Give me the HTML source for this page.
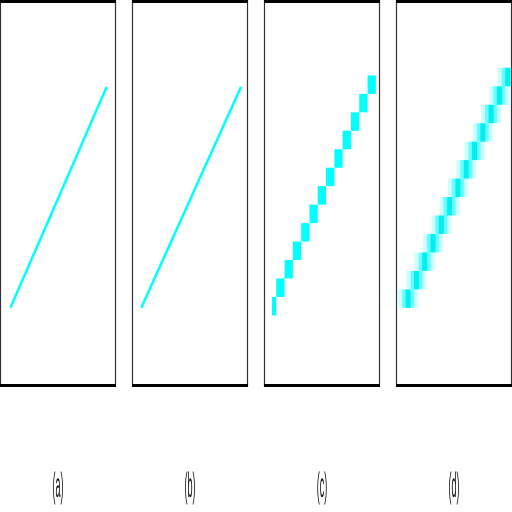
<!DOCTYPE html>
<html><head><meta charset="utf-8"><style>
html,body{margin:0;padding:0;background:#fff;}
svg{display:block;}
text{font-family:"Liberation Sans",sans-serif;}
</style></head><body>
<svg id="chart" width="512" height="512" viewBox="0 0 512 512">
<defs>
<clipPath id="cc"><rect x="272" y="0" width="108" height="384"/></clipPath>
<clipPath id="cd"><rect x="397" y="0" width="114" height="384"/></clipPath>
</defs>
<g id="frames"></g>
<g id="marks"></g>
</svg>
<script>
// panel labels and line endpoints (data units: x 0..1 across panel, y 0..1 bottom->top)
const panelLabels = ["(a)", "(b)", "(c)", "(d)"];
const lineStartX = [0.09, 0.08, 0.07, 0.07];
const lineEndX = [0.92, 0.94, 1.0, 1.0];
const lineStartY = [0.20, 0.20, 0.18, 0.20];
const lineEndY = [0.78, 0.78, 0.81, 0.83];
const blockCounts = [0, 0, 13, 13];

const NS = "http://www.w3.org/2000/svg";
const panelLeft = [0, 132, 264, 396];
const panelW = 116, plotTop = 3, plotBottom = 384;
function sx(p, v){ return panelLeft[p] + v * panelW; }
function sy(v){ return plotBottom - v * (plotBottom - plotTop); }
function mk(tag, attrs, parent){ const e=document.createElementNS(NS,tag); for(const k in attrs) e.setAttribute(k,attrs[k]); parent.appendChild(e); return e; }
const frames = document.getElementById('frames');
const marks = document.getElementById('marks');

panelLabels.forEach((lab, p) => {
  const g = mk('g', {}, frames);
  
  
  mk('rect', {x: panelLeft[p]+0.5, y: 1, width: panelW-1, height: 385, fill:'#fff', stroke:'#333', 'stroke-width':1.2}, g);
  const t1 = mk('rect', {x: panelLeft[p], y: 0, width: panelW, height: 3, fill:'#000'}, g);
  
  
  const b1 = mk('rect', {x: panelLeft[p], y: 384, width: panelW, height: 3, fill:'#000'}, g);
  
  
  const cx = panelLeft[p] + panelW/2;
  const t = mk('text', {x: 0, y: 0, 'font-size': 20, 'text-anchor':'middle', fill:'#111', transform:`translate(${cx},${497}) scale(0.45,1.75)`}, g);
  t.textContent = lab;
  
  
});

panelLabels.forEach((lab, p) => {
  const x0 = sx(p, lineStartX[p]), x1 = sx(p, lineEndX[p]);
  const y0 = sy(lineStartY[p]), y1 = sy(lineEndY[p]);
  if (blockCounts[p] === 0) {
    const l = mk('line', {x1:x0, y1:y0, x2:x1, y2:y1, stroke:'#00ffff', 'stroke-width':2.5}, marks);
    
    
  } else {
    const n = blockCounts[p];
    const dx = (x1 - x0) / n, dy = (y0 - y1) / n;
    const g = mk('g', {'clip-path': p===2 ? 'url(#cc)' : 'url(#cd)'}, marks);
    
    
    for (let k = 0; k < n; k++) {
      const bx = x0 + dx*k, by = y0 - dy*(k+1);
      if (p === 2) {
        const r = mk('rect', {x: bx - dx/2, y: by, width: dx, height: dy, fill:'#00ffff'}, g);
        
        
      } else {
        const cx = bx + 4;
        mk('rect', {x: cx-10, y: by, width: 20, height: dy, fill:'#ccffff'}, g);
        mk('rect', {x: cx-6, y: by, width: 12, height: dy, fill:'#66ffff'}, g);
        const r = mk('rect', {x: cx-2.5, y: by, width: 5, height: dy, fill:'#00f0f0'}, g);
        
        
      }
    }
  }
});
</script>
</body></html>
